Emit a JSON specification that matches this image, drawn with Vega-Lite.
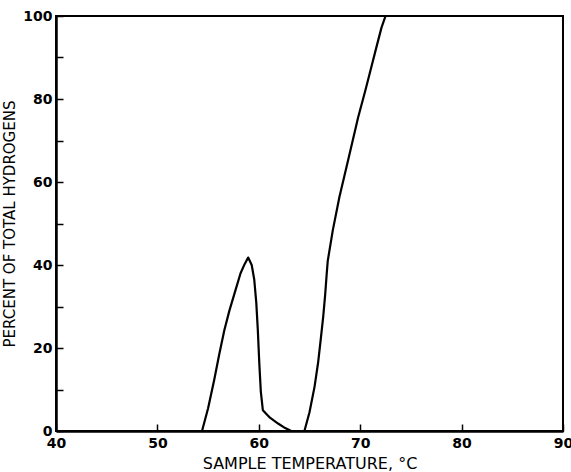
{
  "$schema": "https://vega.github.io/schema/vega-lite/v6.json",
  "width": 507,
  "height": 415,
  "autosize": "none",
  "padding": {"left": 56, "top": 16, "right": 8, "bottom": 41},
  "background": "white",
  "config": {
    "view": {"stroke": "black", "strokeWidth": 2},
    "font": "DejaVu Sans"
  },
  "data": {
    "values": [
      {"t": 40, "p": 0},
      {"t": 54.4, "p": 0},
      {"t": 55.0, "p": 5.5},
      {"t": 55.6, "p": 12.3},
      {"t": 56.1, "p": 18.5},
      {"t": 56.6, "p": 24.3},
      {"t": 57.1, "p": 29.0},
      {"t": 57.6, "p": 33.1},
      {"t": 58.2, "p": 38.0},
      {"t": 58.6, "p": 40.2},
      {"t": 58.95, "p": 41.8},
      {"t": 59.3, "p": 40.0},
      {"t": 59.55, "p": 36.5},
      {"t": 59.75, "p": 31.0},
      {"t": 59.9, "p": 24.5},
      {"t": 60.05, "p": 16.3},
      {"t": 60.2, "p": 9.5},
      {"t": 60.4, "p": 5.0},
      {"t": 61.1, "p": 3.2},
      {"t": 61.9, "p": 1.8},
      {"t": 62.6, "p": 0.7},
      {"t": 63.2, "p": 0},
      {"t": 64.5, "p": 0},
      {"t": 65.0, "p": 4.5},
      {"t": 65.5, "p": 10.7},
      {"t": 65.85, "p": 16.5},
      {"t": 66.1, "p": 21.9},
      {"t": 66.35, "p": 27.5},
      {"t": 66.55, "p": 33.0},
      {"t": 66.7, "p": 38.0},
      {"t": 66.8, "p": 41.0},
      {"t": 67.3, "p": 48.4},
      {"t": 67.95, "p": 56.4},
      {"t": 68.8, "p": 65.2},
      {"t": 69.8, "p": 75.6},
      {"t": 70.5, "p": 82.0},
      {"t": 71.1, "p": 87.7},
      {"t": 71.6, "p": 92.5},
      {"t": 72.1, "p": 97.2},
      {"t": 72.5, "p": 100},
      {"t": 90, "p": 100}
    ]
  },
  "mark": {"type": "line", "color": "black", "strokeWidth": 2.2, "interpolate": "linear", "clip": true, "strokeJoin": "round"},
  "encoding": {
    "x": {
      "field": "t",
      "type": "quantitative",
      "scale": {"domain": [40, 90], "nice": false, "zero": false},
      "axis": {
        "title": "SAMPLE TEMPERATURE, °C",
        "values": [40, 50, 60, 70, 80, 90],
        "grid": false,
        "domainColor": "black",
        "domainWidth": 2.5,
        "tickColor": "black",
        "tickWidth": 1.5,
        "tickSize": -7,
        "labelPadding": 12,
        "labelFont": "DejaVu Sans",
        "labelFontWeight": "bold",
        "labelFontSize": 14,
        "labelColor": "black",
        "labelFlush": false,
        "titleFont": "DejaVu Sans",
        "titleFontWeight": "normal",
        "titleFontSize": 16,
        "titleColor": "black",
        "titlePadding": 5
      }
    },
    "y": {
      "field": "p",
      "type": "quantitative",
      "scale": {"domain": [0, 100], "nice": false},
      "axis": {
        "title": "PERCENT OF TOTAL HYDROGENS",
        "values": [0, 10, 20, 30, 40, 50, 60, 70, 80, 90, 100],
        "labelExpr": "datum.value % 20 == 0 ? datum.label : ''",
        "grid": false,
        "domainColor": "black",
        "domainWidth": 2.5,
        "tickColor": "black",
        "tickWidth": 1.5,
        "tickSize": -7,
        "labelPadding": 11,
        "labelFont": "DejaVu Sans",
        "labelFontWeight": "bold",
        "labelFontSize": 14,
        "labelColor": "black",
        "labelFlush": false,
        "titleFont": "DejaVu Sans",
        "titleFontWeight": "normal",
        "titleFontSize": 15,
        "titleColor": "black",
        "titlePadding": 5
      }
    }
  }
}
